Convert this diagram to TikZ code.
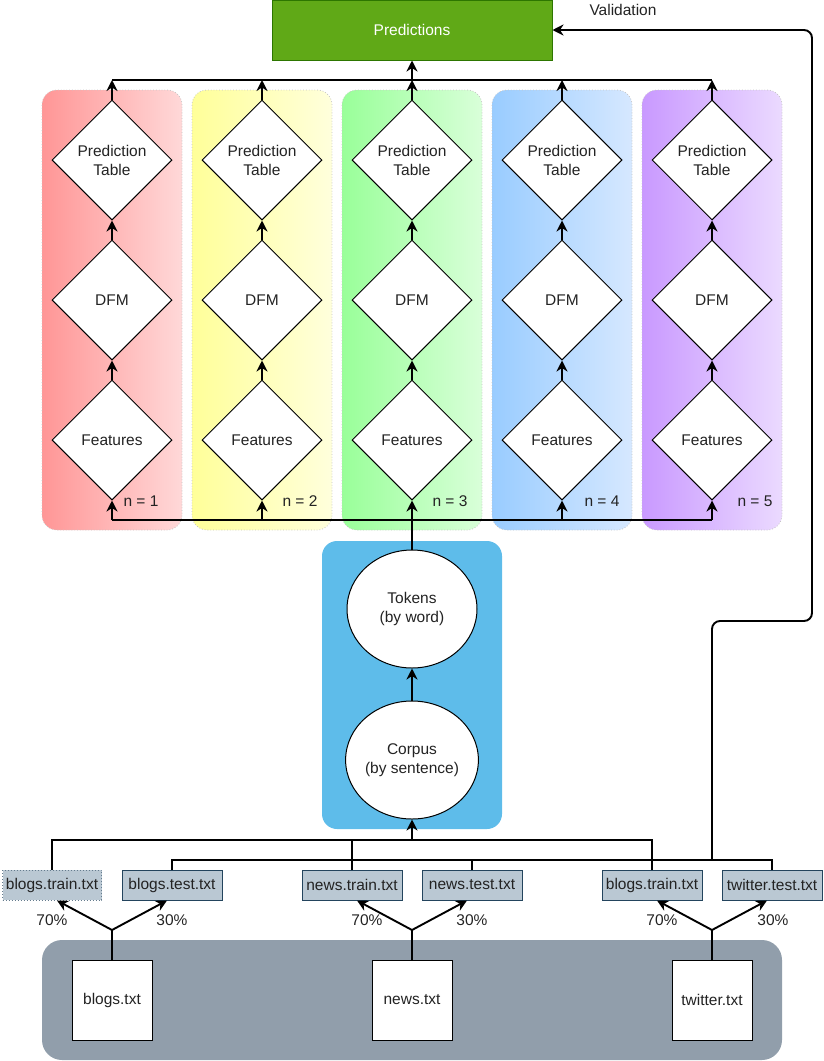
\documentclass[tikz,border=0pt]{standalone}
\usepackage{fontspec}
\setmainfont{Liberation Sans}
\usetikzlibrary{shapes.geometric,arrows.meta,calc}

\definecolor{txt}{RGB}{35,35,35}
\definecolor{predfill}{HTML}{60A917}
\definecolor{predline}{HTML}{2D7600}
\definecolor{corpusbg}{HTML}{5EBCEA}
\definecolor{filefill}{HTML}{BAC8D3}
\definecolor{fileline}{HTML}{23445D}
\definecolor{sourcebg}{HTML}{919EAB}
\definecolor{pa1}{HTML}{FF9696}\definecolor{pb1}{HTML}{FFD8D8}
\definecolor{pa2}{HTML}{FFFF99}\definecolor{pb2}{HTML}{FFFFDC}
\definecolor{pa3}{HTML}{99FF99}\definecolor{pb3}{HTML}{D9FFD9}
\definecolor{pa4}{HTML}{99CCFF}\definecolor{pb4}{HTML}{D6E8FF}
\definecolor{pa5}{HTML}{C999FF}\definecolor{pb5}{HTML}{EBDAFF}

\tikzset{
  every node/.style={font=\fontsize{15.5}{19}\selectfont, text=txt},
  wire/.style={line width=1.9pt, draw=black},
  arr/.style={wire, -{Stealth[length=11pt,width=11pt,inset=3.5pt]}},
  stepdiamond/.style={diamond, draw=black, fill=white, line width=1pt,
    minimum width=120pt, minimum height=120pt, inner sep=0pt, align=center},
  stepellipse/.style={ellipse, draw=black, fill=white, line width=1pt,
    minimum width=130pt, minimum height=118pt, inner sep=0pt, align=center},
  filebox/.style={rectangle, draw=fileline, fill=filefill, line width=1pt,
    minimum width=100pt, minimum height=30pt, inner sep=0pt},
  sourcebox/.style={rectangle, draw=black, fill=white, line width=1pt,
    minimum width=80pt, minimum height=80pt, inner sep=0pt},
  panel/.style={rounded corners=15pt, draw=gray!45, dotted, line width=0.8pt},
}

\begin{document}
\begin{tikzpicture}[x=1pt,y=-1pt]
\useasboundingbox (0,0) rectangle (824,1061);

% n-gram panels
\foreach \i in {1,...,5}{
  \pgfmathsetmacro{\xl}{42+150*(\i-1)}
  \path[panel, left color=pa\i, right color=pb\i] (\xl,90) rectangle ++(140,440);
}

% results box
\node[rectangle, draw=predline, fill=predfill, line width=1pt,
  minimum width=280pt, minimum height=60pt, text=white] (pred) at (412,30) {Predictions};
\node (vallabel) at (623,10) {Validation};

% per-n pipelines
\foreach \i in {1,...,5}{
  \pgfmathsetmacro{\cx}{112+150*(\i-1)}
  \node[stepdiamond] (pt\i) at (\cx,160) {Prediction\\Table};
  \node[stepdiamond] (dfm\i) at (\cx,300) {DFM};
  \node[stepdiamond] (feat\i) at (\cx,440) {Features};
  \draw[arr] (feat\i.north) -- (dfm\i.south);
  \draw[arr] (dfm\i.north) -- (pt\i.south);
  \coordinate (top\i) at (\cx,80);
  \coordinate (bot\i) at (\cx,520);
  \draw[arr] (pt\i.north) -- (top\i);
}
\node (n1) at (141,501) {n = 1};
\node (n2) at (300,501) {n = 2};
\node (n3) at (450,501) {n = 3};
\node (n4) at (602,501) {n = 4};
\node (n5) at (755,501) {n = 5};

% top collector
\draw[wire] (top1) -- (top5);
\draw[arr] (top3) -- (pred.south);

% bottom distributor
\draw[wire] (bot1) -- (bot5);
\foreach \i in {1,2,4,5}{ \draw[arr] (bot\i) -- (feat\i.south); }

% corpus / tokens block
\path[fill=corpusbg, rounded corners=15pt] (322,541) rectangle (502,829);
\node[stepellipse] (tok) at (412,609) {Tokens\\(by word)};
\node[stepellipse] (corp) at (412,760) {Corpus\\(by sentence)};
\draw[arr] (corp.north) -- (tok.south);
\draw[arr] (tok.north) -- (feat3.south);

% split files
\node[filebox, draw=fileline!70, dotted, minimum width=99pt] (f1) at (52,885) {blogs.train.txt};
\node[filebox] (f2) at (172,885) {blogs.test.txt};
\node[filebox] (f3) at (352,885) {news.train.txt};
\node[filebox] (f4) at (472,885) {news.test.txt};
\node[filebox] (f5) at (652,885) {blogs.train.txt};
\node[filebox] (f6) at (772,885) {twitter.test.txt};

% training files -> corpus
\coordinate (tb) at (412,840);
\draw[wire] (f1.north) |- (f5.north |- tb) -- (f5.north);
\draw[wire] (f3.north) -- (f3.north |- tb);
\draw[arr] (tb) -- (corp.south);

% test files -> validation
\coordinate (vb) at (712,860);
\draw[wire] (f2.north) |- (f6.north |- vb) -- (f6.north);
\draw[wire] (f4.north) -- (f4.north |- vb);
\draw[arr, rounded corners=8pt] (vb) -- (712,621) -- (812,621) -- (812,30) -- (pred.east);

% raw sources
\path[fill=sourcebg, rounded corners=20pt] (42,940) rectangle (782,1060);
\node[sourcebox] (s1) at (112,1000) {blogs.txt};
\node[sourcebox] (s2) at (412,1000) {news.txt};
\node[sourcebox] (s3) at (712,1000) {twitter.txt};

\coordinate (sp1) at (112,930);
\coordinate (sp2) at (412,930);
\coordinate (sp3) at (712,930);
\draw[wire] (s1.north) -- (sp1);
\draw[wire] (s2.north) -- (sp2);
\draw[wire] (s3.north) -- (sp3);
\draw[arr] (sp1) -- ([xshift=5pt]f1.south);
\draw[arr] (sp1) -- ([xshift=-5pt]f2.south);
\draw[arr] (sp2) -- ([xshift=5pt]f3.south);
\draw[arr] (sp2) -- ([xshift=-5pt]f4.south);
\draw[arr] (sp3) -- ([xshift=5pt]f5.south);
\draw[arr] (sp3) -- ([xshift=-5pt]f6.south);

\node (p1) at (52,920) {70\%};
\node (p2) at (172,920) {30\%};
\node (p3) at (367,920) {70\%};
\node (p4) at (472,920) {30\%};
\node (p5) at (662,920) {70\%};
\node (p6) at (773,920) {30\%};
\end{tikzpicture}
\end{document}
